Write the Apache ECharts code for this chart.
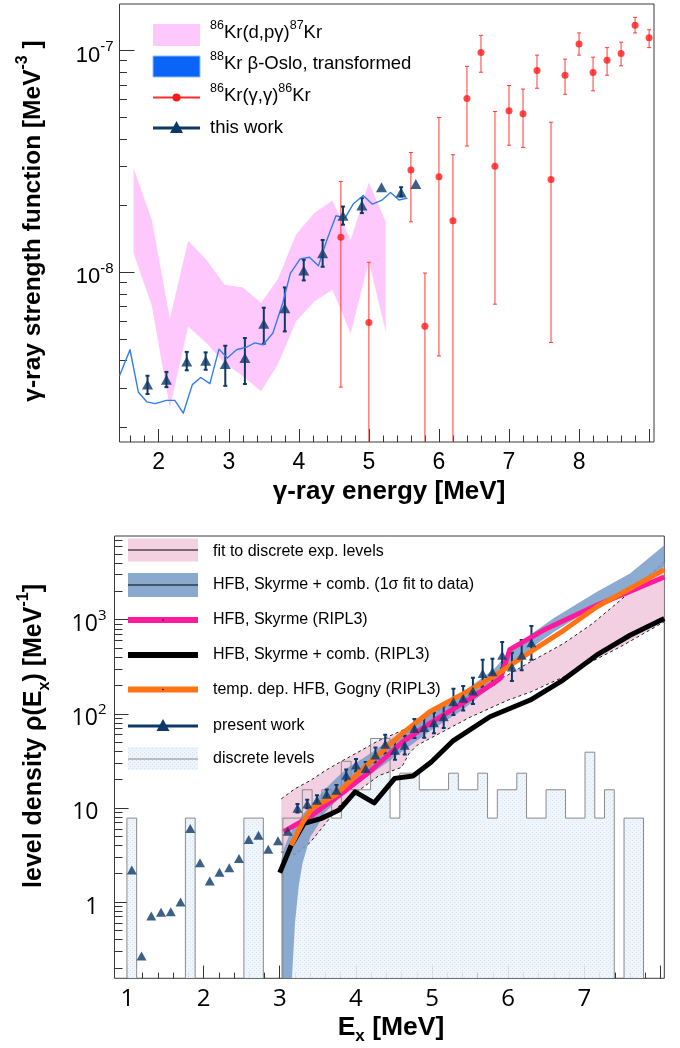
<!DOCTYPE html>
<html>
<head>
<meta charset="utf-8">
<title>86Kr / 88Kr strength function and level density</title>
<script src="https://cdn.jsdelivr.net/npm/echarts@6.0.0/dist/echarts.min.js"></script>
<style>
html,body{margin:0;padding:0;background:#ffffff;}
#chart{width:680px;height:1048px;}
</style>
</head>
<body>
<div id="chart"></div>
<script>
// ================= UPPER PANEL : gamma-ray strength function =================
// 86Kr(d,p gamma)87Kr band
const dpgBandX  = [1.64, 1.90, 2.16, 2.42, 2.68, 2.94, 3.20, 3.46, 3.70, 3.96, 4.22, 4.48, 4.74, 5.00, 5.24];
const dpgBandLo = [1.22e-8, 7.1e-9, 2.45e-9, 5.7e-9, 4.8e-9, 3.9e-9, 3.4e-9, 2.91e-9, 3.84e-9, 6.0e-9, 7.4e-9, 8.35e-9, 5.3e-9, 1.12e-8, 5.4e-9];
const dpgBandHi = [2.95e-8, 1.73e-8, 6.2e-9, 1.39e-8, 1.14e-8, 8.8e-9, 8.55e-9, 7.3e-9, 9.3e-9, 1.48e-8, 1.85e-8, 2.11e-8, 1.40e-8, 2.54e-8, 1.69e-8];

// 88Kr beta-Oslo, transformed
const osloX = [1.44, 1.59, 1.71, 1.83, 1.95, 2.11, 2.23, 2.35, 2.48, 2.60, 2.73, 2.86, 2.98, 3.11, 3.26, 3.37, 3.49, 3.63, 3.77, 3.88, 4.02, 4.15, 4.28, 4.40, 4.53, 4.66, 4.78, 4.92, 5.05, 5.18, 5.31, 5.43, 5.55];
const osloY = [3.42e-9, 4.48e-9, 2.88e-9, 2.61e-9, 2.56e-9, 2.65e-9, 2.65e-9, 2.32e-9, 3.12e-9, 3.36e-9, 3.15e-9, 4.51e-9, 4.11e-9, 4.48e-9, 4.61e-9, 4.81e-9, 4.72e-9, 5.33e-9, 7.28e-9, 9.93e-9, 1.15e-8, 1.17e-8, 1.07e-8, 1.40e-8, 1.80e-8, 1.76e-8, 2.04e-8, 2.22e-8, 2.03e-8, 2.11e-8, 2.29e-8, 2.12e-8, 2.16e-8];

// 86Kr(gamma,gamma')86Kr
const ggX  = [4.6, 5.0, 5.6, 5.8, 6.0, 6.2, 6.4, 6.6, 6.8, 7.0, 7.2, 7.4, 7.6, 7.8, 8.0, 8.2, 8.4, 8.6, 8.8, 9.0];
const ggY  = [1.44e-8, 5.94e-9, 2.89e-8, 5.71e-9, 2.70e-8, 1.71e-8, 6.07e-8, 9.8e-8, 3.01e-8, 5.35e-8, 5.19e-8, 8.13e-8, 2.62e-8, 7.74e-8, 1.07e-7, 7.96e-8, 9.04e-8, 9.68e-8, 1.30e-7, 1.14e-7];
const ggLo = [3.04e-9, 1e-10, 1.69e-8, 1e-10, 4.2e-9, 1e-10, 3.71e-8, 7.98e-8, 7.19e-9, 3.74e-8, 3.66e-8, 6.76e-8, 4.83e-9, 6.35e-8, 9.53e-8, 6.58e-8, 7.74e-8, 8.53e-8, 1.20e-7, 1.03e-7];
const ggHi = [2.57e-8, 1.11e-8, 3.47e-8, 9.93e-9, 4.99e-8, 3.39e-8, 8.48e-8, 1.17e-7, 5.31e-8, 6.95e-8, 6.7e-8, 9.53e-8, 4.75e-8, 9.14e-8, 1.20e-7, 9.33e-8, 1.03e-7, 1.09e-7, 1.41e-7, 1.24e-7];

// this work
const twX  = [1.84, 2.11, 2.40, 2.67, 2.95, 3.23, 3.50, 3.80, 4.07, 4.34, 4.63, 4.90, 5.18, 5.46, 5.67];
const twY  = [3.12e-9, 3.28e-9, 3.97e-9, 4.0e-9, 3.86e-9, 4.11e-9, 5.87e-9, 6.9e-9, 1.02e-8, 1.22e-8, 1.80e-8, 2.0e-8, 2.42e-8, 2.29e-8, 2.5e-8];
const twLo = [2.83e-9, 3.04e-9, 3.62e-9, 3.64e-9, 3.08e-9, 3.14e-9, 4.77e-9, 5.42e-9, 9.2e-9, 1.06e-8, 1.64e-8, 1.85e-8, null, 2.2e-8, null];
const twHi = [3.42e-9, 3.56e-9, 4.38e-9, 4.36e-9, 4.67e-9, 5.06e-9, 6.93e-9, 8.55e-9, 1.14e-8, 1.40e-8, 1.98e-8, 2.16e-8, null, 2.42e-8, null];

// axis ranges and ticks (upper)
const topXRange = [1.44, 9.07];
const topYRange = [1.72e-9, 1.62e-7];
const topXMajor = [2, 3, 4, 5, 6, 7, 8, 9];
const topXMinor = [1.6, 1.8, 2.2, 2.4, 2.6, 2.8, 3.2, 3.4, 3.6, 3.8, 4.2, 4.4, 4.6, 4.8, 5.2, 5.4, 5.6, 5.8, 6.2, 6.4, 6.6, 6.8, 7.2, 7.4, 7.6, 7.8, 8.2, 8.4, 8.6, 8.8];
const topXLabelVals = [2, 3, 4, 5, 6, 7, 8];
const topXLabelText = ['2', '3', '4', '5', '6', '7', '8'];
const topYMajor = [1e-8, 1e-7];
const topYMinor = [2e-9, 3e-9, 4e-9, 5e-9, 6e-9, 7e-9, 8e-9, 9e-9, 2e-8, 3e-8, 4e-8, 5e-8, 6e-8, 7e-8, 8e-8, 9e-8];
const topYLabelVals = [1e-8, 1e-7];
const topYLabelBase = ['10', '10'];
const topYLabelSup  = ['-8', '-7'];

// ================= LOWER PANEL : level density =================
// fit to discrete exp. levels (band)
const fitX  = [3.02, 3.2, 3.4, 3.6, 3.8, 4.0, 4.3, 4.6, 4.7, 4.8, 5.1, 5.5, 6.0, 6.3, 6.73, 7.1, 7.47, 8.05];
const fitLo = [3.4, 3.2, 4.3, 6.8, 11, 14.5, 22, 27, 38, 46, 62, 92, 140, 171, 247, 360, 513, 950];
const fitHi = [12.5, 16, 19.5, 25, 31, 38, 52, 66, 74, 82, 110, 160, 260, 360, 560, 900, 1600, 4100];

// HFB, Skyrme + comb. (1 sigma fit to data) band
const hfbBandX  = [3.02, 3.06, 3.12, 3.16, 3.2, 3.25, 3.3, 3.4, 3.5, 3.6, 3.75, 3.9, 4.1, 4.4, 4.7, 5.0, 5.4, 5.8, 6.0, 6.3, 6.6, 7.16, 7.6, 8.05];
const hfbBandLo = [0.15, 0.15, 0.15, 0.15, 0.6, 1.5, 2.6, 4.9, 6.5, 9, 12, 15, 20, 30, 45, 68, 110, 200, 310, 500, 740, 1420, 2100, 3640];
const hfbBandHi = [2.8, 3.8, 5.0, 5.8, 6.3, 7.3, 8.5, 10.5, 13, 16, 21, 27, 34, 50, 72, 105, 170, 290, 440, 700, 1040, 1970, 3100, 6160];

// HFB, Skyrme (RIPL3)
const skyX = [3.05, 3.4, 3.8, 4.2, 4.61, 4.97, 5.41, 5.80, 5.9, 6.02, 6.46, 7.16, 8.05];
const skyY = [5.6, 8.1, 14, 25, 50, 79, 131, 209, 240, 480, 771, 1420, 2840];

// HFB, Skyrme + comb. (RIPL3)
const combX = [3.0, 3.15, 3.32, 3.54, 3.78, 3.99, 4.24, 4.51, 4.75, 4.99, 5.28, 5.76, 6.29, 6.72, 7.16, 7.6, 8.05];
const combY = [2.05, 4.0, 6.85, 7.7, 9.5, 14.8, 11.3, 20.6, 21.8, 30.8, 52, 93, 140, 228, 420, 683, 1027];

// temp. dep. HFB, Gogny (RIPL3)
const gognyX = [3.15, 3.3, 3.42, 3.73, 4.12, 4.61, 4.97, 5.41, 5.80, 6.29, 6.73, 7.16, 7.6, 8.05];
const gognyY = [4.0, 7.0, 9.9, 13.7, 27.3, 62, 105, 164, 247, 455, 771, 1365, 2140, 3400];

// present work
const pwX  = [1.057, 1.185, 1.313, 1.441, 1.569, 1.697, 1.825, 1.953, 2.081, 2.209, 2.337, 2.465, 2.593, 2.721, 2.849, 2.977, 3.105, 3.233, 3.361, 3.489, 3.617, 3.745, 3.873, 4.001, 4.129, 4.257, 4.385, 4.513, 4.641, 4.769, 4.897, 5.025, 5.153, 5.281, 5.409, 5.537, 5.665, 5.793, 5.921, 6.049, 6.177, 6.305];
const pwY  = [2.19, 0.267, 0.71, 0.78, 0.79, 1.0, 6.06, 2.61, 1.67, 2.07, 2.31, 2.91, 4.63, 5.14, 3.65, 4.48, 5.67, 9.9, 11.0, 12.1, 14.0, 15.4, 22.3, 28.5, 26.2, 36.4, 47.6, 41.1, 46.4, 69.8, 71.6, 80.2, 92.9, 134, 146, 175, 268, 279, 420, 315, 420, 567];
const pwLo = [null, null, null, null, null, null, null, null, null, null, null, null, null, null, null, null, null, 8.93, 9.92, 10.8, 12.5, 13.6, 19.4, 24.5, 22.3, 30.3, 37.8, 32.6, 36.9, 55.4, 55.6, 62.3, 70.5, 97.1, 108.2, 126.8, 192, 202, 304, 223, 291, 375];
const pwHi = [null, null, null, null, null, null, null, null, null, null, null, null, null, null, null, null, null, 10.98, 12.2, 13.6, 15.7, 17.5, 25.6, 33.1, 30.8, 43.8, 59.9, 51.7, 58.4, 87.9, 92.2, 103.3, 122.4, 184.9, 197, 241.5, 374, 385, 580, 445, 607, 858];

// discrete levels histogram (segments: from, to, density)
const histX0  = [0.993, 1.761, 2.529, 3.041, 3.297, 3.425, 3.553, 3.681, 3.809, 3.937, 4.193, 4.449, 4.577, 4.833, 5.217, 5.345, 5.601, 5.729, 5.857, 6.113, 6.241, 6.497, 6.753, 7.009, 7.137, 7.265, 7.521];
const histX1  = [1.121, 1.889, 2.785, 3.297, 3.425, 3.553, 3.681, 3.809, 3.937, 4.193, 4.449, 4.577, 4.833, 5.217, 5.345, 5.601, 5.729, 5.857, 6.113, 6.241, 6.497, 6.753, 7.009, 7.137, 7.265, 7.393, 7.777];
const histRho = [7.8, 7.8, 7.8, 7.8, 15.6, 7.8, 15.6, 7.8, 31.3, 15.6, 54.7, 7.8, 23.4, 15.6, 23.4, 15.6, 23.4, 7.8, 15.6, 23.4, 7.8, 15.6, 7.8, 39.1, 7.8, 15.6, 7.8];

// axis ranges and ticks (lower)
const botXRange = [0.83, 8.05];
const botYRange = [0.155, 7740];
const botXMajor = [1, 2, 3, 4, 5, 6, 7, 8];
const botXMinor = [1.2, 1.4, 1.6, 1.8, 2.2, 2.4, 2.6, 2.8, 3.2, 3.4, 3.6, 3.8, 4.2, 4.4, 4.6, 4.8, 5.2, 5.4, 5.6, 5.8, 6.2, 6.4, 6.6, 6.8, 7.2, 7.4, 7.6, 7.8];
const botXLabelVals = [1, 2, 3, 4, 5, 6, 7];
const botXLabelText = ['1', '2', '3', '4', '5', '6', '7'];
const botYMajor = [1, 10, 100, 1000];
const botYMinor = [0.2, 0.3, 0.4, 0.5, 0.6, 0.7, 0.8, 0.9, 2, 3, 4, 5, 6, 7, 8, 9, 20, 30, 40, 50, 60, 70, 80, 90, 200, 300, 400, 500, 600, 700, 800, 900, 2000, 3000, 4000, 5000, 6000, 7000];
const botYLabelVals = [1, 10, 100, 1000];
const botYLabelBase = ['1', '10', '10', '10'];
const botYLabelSup  = ['', '', '2', '3'];

// ================= rendering =================
const FONT = '"Liberation Sans", Arial, Helvetica, sans-serif';
const FONT_OS = '"Open Sans", "Liberation Sans", sans-serif';
const NAVY = '#0d3868';
const AXC = '#333333';

function findIdx(arr, v, isLog) {
  for (let i = 0; i < arr.length; i++) {
    const a = isLog ? Math.log10(arr[i]) : arr[i];
    const b = isLog ? Math.log10(v) : v;
    if (Math.abs(a - b) < 1e-6) return i;
  }
  return -1;
}

function makeXAxes(gi, range, major, minor, lv, lt, font, fs, margin, majLen, minLen) {
  return [
    { type: 'value', gridIndex: gi, min: range[0], max: range[1], position: 'bottom',
      axisLine: { show: false, onZero: false }, splitLine: { show: false },
      axisTick: { show: true, inside: true, length: majLen, customValues: major, lineStyle: { color: AXC, width: 1 } },
      axisLabel: { show: true, customValues: lv, margin: margin, color: '#000', fontFamily: font, fontSize: fs,
        formatter: function (v) { const i = findIdx(lv, v, false); return i < 0 ? '' : lt[i]; } } },
    { type: 'value', gridIndex: gi, min: range[0], max: range[1], position: 'bottom',
      axisLine: { show: false, onZero: false }, splitLine: { show: false },
      axisTick: { show: true, inside: true, length: minLen, customValues: minor, lineStyle: { color: AXC, width: 1 } },
      axisLabel: { show: false } }
  ];
}

function makeYAxes(gi, range, major, minor, lv, lb, ls, font, fs, sfs, margin, majLen, minLen) {
  return [
    { type: 'log', logBase: 10, gridIndex: gi, min: range[0], max: range[1], position: 'left',
      axisLine: { show: false, onZero: false }, splitLine: { show: false },
      axisTick: { show: true, inside: true, length: majLen, customValues: major, lineStyle: { color: AXC, width: 1 } },
      axisLabel: { show: true, customValues: lv, margin: margin,
        formatter: function (v) {
          const i = findIdx(lv, v, true);
          if (i < 0) return '';
          return ls[i] ? '{b|' + lb[i] + '}{s|' + ls[i] + '}' : '{b|' + lb[i] + '}{e| }';
        },
        rich: {
          b: { fontFamily: font, fontSize: fs, color: '#000', padding: [10, 0, 0, 0] },
          s: { fontFamily: font, fontSize: sfs, color: '#000', verticalAlign: 'top', padding: [5, 0, 0, 0] },
          e: { fontFamily: font, fontSize: sfs, width: 8 }
        } } },
    { type: 'log', logBase: 10, gridIndex: gi, min: range[0], max: range[1], position: 'left',
      axisLine: { show: false, onZero: false }, splitLine: { show: false },
      axisTick: { show: true, inside: true, length: minLen, customValues: minor, lineStyle: { color: AXC, width: 1 } },
      axisLabel: { show: false } }
  ];
}

function bandSeries(xi, yi, xs, lo, hi, yFloor, fill, edge) {
  return {
    type: 'custom', xAxisIndex: xi, yAxisIndex: yi, clip: true, silent: true,
    data: xs.map(function (x, i) { return [x, lo[i], hi[i]]; }),
    encode: { x: 0, y: [1, 2] },
    renderItem: function (params, api) {
      if (params.dataIndex !== 0) return null;
      const up = [], dn = [];
      for (let i = 0; i < xs.length; i++) {
        up.push(api.coord([xs[i], Math.max(hi[i], yFloor)]));
        dn.push(api.coord([xs[i], Math.max(lo[i], yFloor)]));
      }
      const children = [{ type: 'polygon', shape: { points: up.concat(dn.slice().reverse()) }, style: { fill: fill } }];
      if (edge) {
        children.push({ type: 'polyline', shape: { points: up }, style: { stroke: edge, lineWidth: 1, lineDash: [3, 3], fill: null } });
        children.push({ type: 'polyline', shape: { points: dn }, style: { stroke: edge, lineWidth: 1, lineDash: [3, 3], fill: null } });
      }
      return { type: 'group', children: children };
    }
  };
}

function errorSeries(xi, yi, xs, ys, los, his, range, color, lw, cap) {
  const data = [];
  for (let i = 0; i < xs.length; i++) if (los[i] != null) data.push([xs[i], ys[i], los[i], his[i]]);
  return {
    type: 'custom', xAxisIndex: xi, yAxisIndex: yi, clip: true, silent: true, data: data,
    encode: { x: 0, y: 1 },
    renderItem: function (params, api) {
      const x = api.value(0), lo = api.value(2), hi = api.value(3);
      const a = api.coord([x, Math.max(lo, range[0])]);
      const b = api.coord([x, Math.min(hi, range[1])]);
      const st = { stroke: color, lineWidth: lw };
      const ch = [{ type: 'line', shape: { x1: a[0], y1: a[1], x2: b[0], y2: b[1] }, style: st }];
      if (lo >= range[0]) ch.push({ type: 'line', shape: { x1: a[0] - cap, y1: a[1], x2: a[0] + cap, y2: a[1] }, style: st });
      if (hi <= range[1]) ch.push({ type: 'line', shape: { x1: b[0] - cap, y1: b[1], x2: b[0] + cap, y2: b[1] }, style: st });
      return { type: 'group', children: ch };
    }
  };
}

// dotted fill pattern for the discrete-level histogram
function makePattern() {
  const c = document.createElement('canvas');
  c.width = 4; c.height = 4;
  const g = c.getContext('2d');
  g.fillStyle = '#eef4fb'; g.fillRect(0, 0, 4, 4);
  g.fillStyle = '#d2e0f0'; g.fillRect(0, 0, 1, 1); g.fillRect(2, 2, 1, 1);
  return c;
}
const histPattern = { image: makePattern(), repeat: 'repeat' };

function histSeries(xi, yi, mode) {
  const n = histX0.length;
  return {
    type: 'custom', xAxisIndex: xi, yAxisIndex: yi, clip: true, silent: true,
    data: histX0.map(function (x, i) { return [x, histRho[i], histX1[i]]; }),
    encode: { x: [0, 2], y: 1 },
    renderItem: function (params, api) {
      const i = params.dataIndex;
      const x0 = histX0[i], x1 = histX1[i], v = histRho[i], base = botYRange[0];
      const tl = api.coord([x0, v]), br = api.coord([x1, base]), tr = api.coord([x1, v]);
      if (mode === 'fill') {
        return { type: 'rect', shape: { x: tl[0], y: tl[1], width: br[0] - tl[0], height: br[1] - tl[1] }, style: { fill: histPattern, opacity: 0.9 } };
      }
      const st = { stroke: '#8a8a8a', lineWidth: 1 };
      const ch = [{ type: 'line', shape: { x1: tl[0], y1: tl[1], x2: tr[0], y2: tr[1] }, style: st }];
      const prevAdj = i > 0 && Math.abs(histX1[i - 1] - x0) < 1e-6;
      const lp = api.coord([x0, prevAdj ? histRho[i - 1] : base]);
      ch.push({ type: 'line', shape: { x1: tl[0], y1: tl[1], x2: lp[0], y2: lp[1] }, style: st });
      const nextAdj = i < n - 1 && Math.abs(histX0[i + 1] - x1) < 1e-6;
      if (!nextAdj) ch.push({ type: 'line', shape: { x1: tr[0], y1: tr[1], x2: br[0], y2: br[1] }, style: st });
      return { type: 'group', children: ch };
    }
  };
}

function lineSeries(xi, yi, xs, ys, color, w, z) {
  return { type: 'line', xAxisIndex: xi, yAxisIndex: yi, data: xs.map(function (x, i) { return [x, ys[i]]; }),
    showSymbol: false, symbol: 'none', smooth: false, clip: true, silent: true, z: z || 2,
    lineStyle: { color: color, width: w, join: 'round', cap: 'butt' } };
}

const series = [
  // upper panel
  bandSeries(0, 0, dpgBandX, dpgBandLo, dpgBandHi, topYRange[0], '#ffc8fc', null),
  lineSeries(0, 0, osloX, osloY, '#2f7df2', 1.4, 3),
  errorSeries(0, 0, ggX, ggY, ggLo, ggHi, topYRange, '#ff3a3a', 1, 2),
  { type: 'scatter', xAxisIndex: 0, yAxisIndex: 0, silent: true, z: 4, symbol: 'circle', symbolSize: 7,
    itemStyle: { color: '#ff1a1a' }, data: ggX.map(function (x, i) { return [x, ggY[i]]; }) },
  errorSeries(0, 0, twX, twY, twLo, twHi, topYRange, NAVY, 2, 2),
  { type: 'scatter', xAxisIndex: 0, yAxisIndex: 0, silent: true, z: 5, symbol: 'triangle', symbolSize: [11, 10],
    itemStyle: { color: NAVY }, data: twX.map(function (x, i) { return [x, twY[i]]; }) },
  // lower panel
  histSeries(2, 2, 'fill'),
  bandSeries(2, 2, fitX, fitLo, fitHi, botYRange[0], 'rgba(240,200,220,0.85)', '#222'),
  bandSeries(2, 2, hfbBandX, hfbBandLo, hfbBandHi, botYRange[0], 'rgba(120,156,200,0.85)', null),
  histSeries(2, 2, 'outline'),
  lineSeries(2, 2, skyX, skyY, '#ff1a9c', 5, 3),
  lineSeries(2, 2, combX, combY, '#000000', 5, 3),
  lineSeries(2, 2, gognyX, gognyY, '#ff7315', 5, 3),
  errorSeries(2, 2, pwX, pwY, pwLo, pwHi, botYRange, NAVY, 2, 2),
  { type: 'scatter', xAxisIndex: 2, yAxisIndex: 2, silent: true, z: 5, symbol: 'triangle', symbolSize: [10, 9],
    itemStyle: { color: NAVY }, data: pwX.map(function (x, i) { return [x, pwY[i]]; }) }
];

// ---------- legends & titles (graphic) ----------
const RT = {
  n: { fontFamily: FONT, fontSize: 18.5, fill: '#000', padding: [4, 0, 4, 0] },
  sup: { fontFamily: FONT, fontSize: 12.5, fill: '#000', verticalAlign: 'top' }
};

function legText(x, y, txt, rich, fs) {
  return { type: 'text', x: x, y: y, z: 20, style: { text: txt, rich: rich, fontFamily: FONT, fontSize: fs, fill: '#000', align: 'left', verticalAlign: 'middle' } };
}
function tri(cx, cy, w, h, color) {
  return { type: 'polygon', z: 21, shape: { points: [[cx, cy - h / 2], [cx + w / 2, cy + h / 2], [cx - w / 2, cy + h / 2]] }, style: { fill: color } };
}

const graphics = [
  // upper legend
  { type: 'rect', z: 20, shape: { x: 153, y: 24, width: 47, height: 22 }, style: { fill: '#ffc8fc' } },
  legText(210, 33, '{sup|86}{n|Kr(d,pγ)}{sup|87}{n|Kr}', RT, 18.5),
  { type: 'rect', z: 20, shape: { x: 153, y: 56, width: 47, height: 21 }, style: { fill: '#0a64f5', stroke: '#8fbaff', lineWidth: 1 } },
  legText(210, 64, '{sup|88}{n|Kr β-Oslo, transformed}', RT, 18.5),
  { type: 'line', z: 20, shape: { x1: 153, y1: 97.5, x2: 200, y2: 97.5 }, style: { stroke: '#ff2a2a', lineWidth: 2 } },
  { type: 'circle', z: 21, shape: { cx: 176.5, cy: 97.5, r: 4 }, style: { fill: '#ff1a1a' } },
  legText(210, 96, '{sup|86}{n|Kr(γ,γ)}{sup|86}{n|Kr}', RT, 18.5),
  { type: 'line', z: 20, shape: { x1: 153, y1: 128, x2: 200, y2: 128 }, style: { stroke: NAVY, lineWidth: 3 } },
  tri(176.5, 127, 13, 12, NAVY),
  legText(210, 128, 'this work', null, 18.5),

  // lower legend
  { type: 'rect', z: 20, shape: { x: 128, y: 538.5, width: 70, height: 23 }, style: { fill: '#f3d1e1' } },
  { type: 'line', z: 21, shape: { x1: 128, y1: 550, x2: 198, y2: 550 }, style: { stroke: '#000', lineWidth: 1 } },
  legText(213, 552, 'fit to discrete exp. levels', null, 16),
  { type: 'rect', z: 20, shape: { x: 128, y: 573, width: 70, height: 24 }, style: { fill: '#8aa9cf' } },
  { type: 'line', z: 21, shape: { x1: 128, y1: 585, x2: 198, y2: 585 }, style: { stroke: '#000', lineWidth: 1 } },
  legText(213, 585, 'HFB, Skyrme + comb. (1σ fit to data)', null, 16),
  { type: 'line', z: 20, shape: { x1: 128, y1: 620, x2: 198, y2: 620 }, style: { stroke: '#ff1a9c', lineWidth: 6 } },
  { type: 'circle', z: 21, shape: { cx: 163, cy: 620, r: 0.8 }, style: { fill: '#000' } },
  legText(213, 620, 'HFB, Skyrme (RIPL3)', null, 16),
  { type: 'line', z: 20, shape: { x1: 128, y1: 655, x2: 198, y2: 655 }, style: { stroke: '#000', lineWidth: 6 } },
  legText(213, 655, 'HFB, Skyrme + comb. (RIPL3)', null, 16),
  { type: 'line', z: 20, shape: { x1: 128, y1: 689.5, x2: 198, y2: 689.5 }, style: { stroke: '#ff7315', lineWidth: 6 } },
  { type: 'circle', z: 21, shape: { cx: 163, cy: 689.5, r: 0.8 }, style: { fill: '#000' } },
  legText(213, 689.5, 'temp. dep. HFB, Gogny (RIPL3)', null, 16),
  { type: 'line', z: 20, shape: { x1: 128, y1: 726, x2: 198, y2: 726 }, style: { stroke: NAVY, lineWidth: 3 } },
  tri(163, 725, 13, 12, NAVY),
  legText(213, 726, 'present work', null, 16),
  { type: 'rect', z: 20, shape: { x: 128, y: 747, width: 70, height: 23 }, style: { fill: histPattern } },
  { type: 'line', z: 21, shape: { x1: 128, y1: 759, x2: 198, y2: 759 }, style: { stroke: '#888', lineWidth: 1 } },
  legText(213, 759, 'discrete levels', null, 16),

  // axis titles
  { type: 'text', x: 33, y: 221, rotation: Math.PI / 2, z: 20,
    style: { text: '{t|γ-ray strength function [MeV}{s|-3}{t| ]}', align: 'center', verticalAlign: 'middle',
      rich: { t: { fontFamily: FONT, fontSize: 24.5, fontWeight: 'bold', fill: '#000', padding: [6, 0, 6, 0] },
              s: { fontFamily: FONT, fontSize: 16, fontWeight: 'bold', fill: '#000', verticalAlign: 'top' } } } },
  { type: 'text', x: 389, y: 492, z: 20,
    style: { text: 'γ-ray energy [MeV]', fontFamily: FONT, fontSize: 26, fontWeight: 'bold', fill: '#000', align: 'center', verticalAlign: 'middle' } },
  { type: 'text', x: 34, y: 736, rotation: Math.PI / 2, z: 20,
    style: { text: '{t|level density ρ(E}{b|x}{t|) [MeV}{s|-1}{t|]}', align: 'center', verticalAlign: 'middle',
      rich: { t: { fontFamily: FONT, fontSize: 25, fontWeight: 'bold', fill: '#000', padding: [6, 0, 6, 0] },
              s: { fontFamily: FONT, fontSize: 16, fontWeight: 'bold', fill: '#000', verticalAlign: 'top' },
              b: { fontFamily: FONT, fontSize: 16, fontWeight: 'bold', fill: '#000', verticalAlign: 'bottom' } } } },
  { type: 'text', x: 391, y: 1028, z: 20,
    style: { text: '{t|E}{b|x}{t| [MeV]}', align: 'center', verticalAlign: 'middle',
      rich: { t: { fontFamily: FONT, fontSize: 26.5, fontWeight: 'bold', fill: '#000', padding: [3, 0, 3, 0] },
              b: { fontFamily: FONT, fontSize: 17, fontWeight: 'bold', fill: '#000', verticalAlign: 'bottom' } } } }
];

const option = {
  animation: false,
  backgroundColor: '#ffffff',
  grid: [
    { left: 119.5, top: 4, width: 534.5, height: 438, show: true, borderColor: '#3a3a3a', borderWidth: 1, backgroundColor: 'rgba(0,0,0,0)', containLabel: false, outerBoundsMode: 'none' },
    { left: 114.5, top: 536, width: 549.8, height: 442.3, show: true, borderColor: '#3a3a3a', borderWidth: 1, backgroundColor: 'rgba(0,0,0,0)', containLabel: false, outerBoundsMode: 'none' }
  ],
  xAxis: [].concat(
    makeXAxes(0, topXRange, topXMajor, topXMinor, topXLabelVals, topXLabelText, FONT, 23, 9, 13, 6.5),
    makeXAxes(1, botXRange, botXMajor, botXMinor, botXLabelVals, botXLabelText, FONT_OS, 24, 9, 12.7, 5.7)
  ),
  yAxis: [].concat(
    makeYAxes(0, topYRange, topYMajor, topYMinor, topYLabelVals, topYLabelBase, topYLabelSup, FONT, 22, 15, 6, 15, 7.5),
    makeYAxes(1, botYRange, botYMajor, botYMinor, botYLabelVals, botYLabelBase, botYLabelSup, FONT_OS, 23, 15, 8, 14, 8)
  ),
  series: series,
  graphic: { elements: graphics }
};

const chart = echarts.init(document.getElementById('chart'), null, { renderer: 'canvas', width: 680, height: 1048 });
chart.setOption(option);
</script>
</body>
</html>
